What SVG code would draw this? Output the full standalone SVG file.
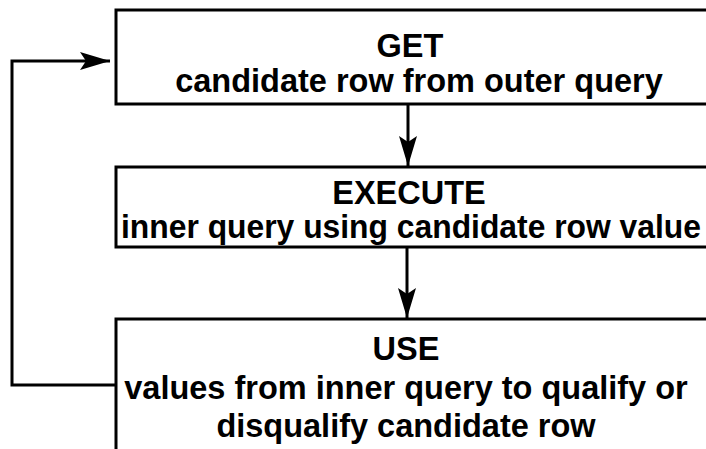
<svg xmlns="http://www.w3.org/2000/svg" width="706" height="449" viewBox="0 0 706 449">
<style>
.box{fill:#fff;stroke:#000;stroke-width:3}
.t{font-family:"Liberation Sans",Arial,sans-serif;font-weight:bold;font-size:32.5px;fill:#000;text-anchor:middle}
.c{fill:none;stroke:#000;stroke-width:3}
</style>
<defs>
<marker id="ah" viewBox="0 0 30 20" refX="30" refY="10" markerWidth="30" markerHeight="20" markerUnits="userSpaceOnUse" orient="auto">
<path d="M0,1 L30,10 L0,19 L6,10 Z" fill="#000"/>
</marker>
</defs>
<rect width="706" height="449" fill="#fff"/>
<g id="get">
<rect class="box" x="116" y="10" width="600" height="94"/>
<text class="t" x="410" y="57">GET</text>
<text class="t" x="419" y="92">candidate row from outer query</text>
</g>
<g id="execute">
<rect class="box" x="116" y="167" width="600" height="80"/>
<text class="t" x="409" y="204">EXECUTE</text>
<text class="t" x="411" y="238" textLength="580" lengthAdjust="spacingAndGlyphs">inner query using candidate row value</text>
</g>
<g id="use">
<rect class="box" x="116" y="319" width="600" height="140"/>
<text class="t" x="406" y="360">USE</text>
<text class="t" x="406" y="399">values from inner query to qualify or</text>
<text class="t" x="406" y="437">disqualify candidate row</text>
</g>
<g id="connectors">
<path class="c" d="M408,104 V166" marker-end="url(#ah)"/>
<path class="c" d="M407,247 V318" marker-end="url(#ah)"/>
<path class="c" d="M116,385 H12 V61 H110" marker-end="url(#ah)"/>
</g>
</svg>
